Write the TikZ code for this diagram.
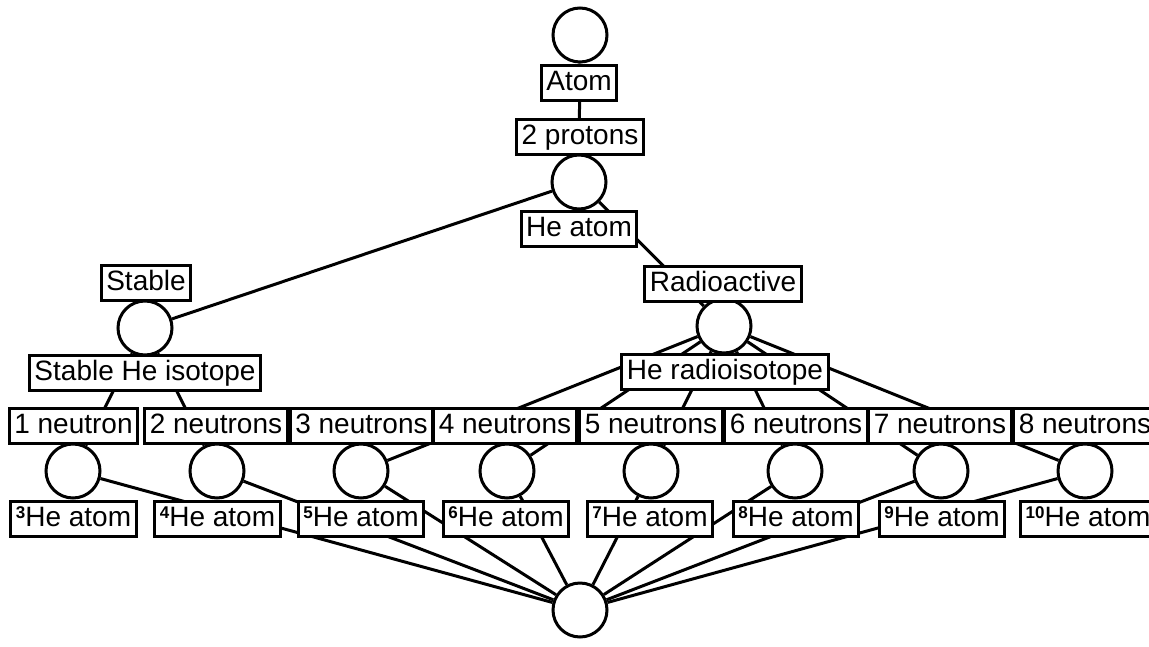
\documentclass[tikz,border=0pt]{standalone}
\usepackage{fontspec}
\setmainfont{Liberation Sans}
\usetikzlibrary{positioning}
\newcommand{\isonum}[1]{\raisebox{7.5pt}{\fontsize{17}{17}\selectfont\bfseries #1}}
\begin{document}
\begin{tikzpicture}[x=1pt,y=-1pt,line width=3pt,main/.style = {draw, circle, fill=white, minimum size=54pt, inner sep=0pt},lbl/.style = {draw, rectangle, fill=white, inner xsep=5pt, inner ysep=4.5pt, text height=20pt, text depth=5.5pt, font=\fontsize{28}{30}\selectfont}]
        \useasboundingbox (0,0) rectangle (1149,646);
        \clip (0,0) rectangle (1149,646);
        \node[main] (top) at (580,35) {};
        \node[main] (he) at (579,182) {};
        \node[main] (st) at (145,328) {};
        \node[main] (ra) at (724,326) {};
        \node[main] (n1) at (73,471) {};
        \node[main] (n2) at (217,471) {};
        \node[main] (n3) at (361,471) {};
        \node[main] (n4) at (507,471) {};
        \node[main] (n5) at (651,471) {};
        \node[main] (n6) at (795,471) {};
        \node[main] (n7) at (941,471) {};
        \node[main] (n8) at (1085,471) {};
        \node[main] (bot) at (580,610) {};
        \path
        (top) edge (he)
        (he) edge (st)
        (he) edge (ra)
        (st) edge (n1)
        (st) edge (n2)
        (ra) edge (n3)
        (ra) edge (n4)
        (ra) edge (n5)
        (ra) edge (n6)
        (ra) edge (n7)
        (ra) edge (n8)
        (n1) edge (bot)
        (n2) edge (bot)
        (n3) edge (bot)
        (n4) edge (bot)
        (n5) edge (bot)
        (n6) edge (bot)
        (n7) edge (bot)
        (n8) edge (bot);
        \node[lbl] (atom) at (579,83) {Atom};
        \node[lbl] (prot) at (580,137) {2 protons};
        \node[lbl] (heatom) at (579,229) {He atom};
        \node[lbl] (stable) at (146,283) {Stable};
        \node[lbl] (radio) at (723,284) {Radioactive};
        \node[lbl] (stiso) at (145,373) {Stable He isotope};
        \node[lbl] (raiso) at (725,372) {He radioisotope};
        \node[lbl] (neu1) at (73.5,426) {1 neutron};
        \node[lbl] (neu2) at (216,426) {2 neutrons};
        \node[lbl] (neu3) at (361.5,426) {3 neutrons};
        \node[lbl] (neu4) at (505,426) {4 neutrons};
        \node[lbl] (neu5) at (651,426) {5 neutrons};
        \node[lbl] (neu6) at (796,426) {6 neutrons};
        \node[lbl] (neu7) at (940,426) {7 neutrons};
        \node[lbl] (neu8) at (1085,426) {8 neutrons};
        \node[lbl] (he3) at (73.5,519) {\isonum{3}He atom};
        \node[lbl] (he4) at (217.5,519) {\isonum{4}He atom};
        \node[lbl] (he5) at (361,519) {\isonum{5}He atom};
        \node[lbl] (he6) at (506,519) {\isonum{6}He atom};
        \node[lbl] (he7) at (650,519) {\isonum{7}He atom};
        \node[lbl] (he8) at (796,519) {\isonum{8}He atom};
        \node[lbl] (he9) at (942,519) {\isonum{9}He atom};
        \node[lbl] (he10) at (1088,519) {\isonum{10}He atom};
      \end{tikzpicture}
\end{document}
